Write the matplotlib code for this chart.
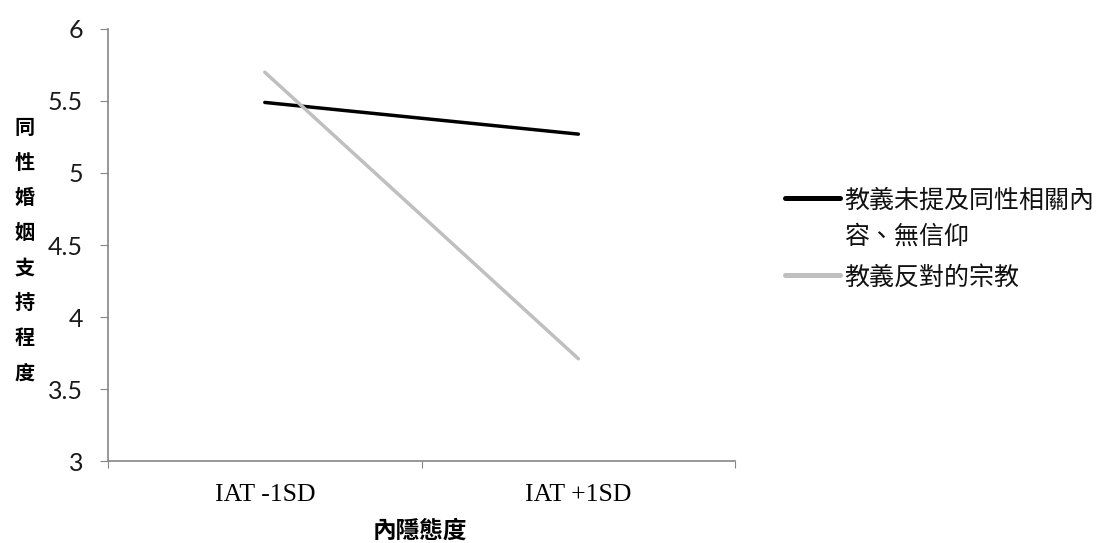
import matplotlib
matplotlib.use("Agg")
import matplotlib.pyplot as plt
from matplotlib.lines import Line2D
from matplotlib.ticker import FixedLocator

categories = ["IAT -1SD", "IAT +1SD"]
series_names = ["教義未提及同性相關內\n容、無信仰", "教義反對的宗教"]
series_a = [5.49, 5.27]
series_b = [5.70, 3.71]
series_colors = ["black", "#BFBFBF"]
y_ticks = [3, 3.5, 4, 4.5, 5, 5.5, 6]
y_tick_labels = ["3", "3.5", "4", "4.5", "5", "5.5", "6"]
x_title = "內隱態度"
y_title = "同性婚姻支持程度"

cjk = ["Noto Sans CJK TC", "DejaVu Sans"]
W, H = 1108, 543

fig = plt.figure(figsize=(W / 100, H / 100), dpi=100)
ax = fig.add_axes([0.0975, 0.151, 0.566, 0.7956])

xpos = [i + 0.5 for i in range(len(categories))]
lines = []
for vals, col in zip([series_a, series_b], series_colors):
    ln, = ax.plot(xpos, vals, color=col, lw=2.5, solid_capstyle="round")
    lines.append(ln)

ax.set_xlim(0, len(categories))
ax.set_ylim(3, 6)
ax.set_yticks(y_ticks)
ax.set_yticklabels(y_tick_labels, fontfamily="Lato", fontsize=18, color="#1a1a1a")
ax.xaxis.set_major_locator(FixedLocator(list(range(len(categories) + 1))))
ax.set_xticklabels([])
ax.set_xticks(xpos, minor=True)
ax.set_xticklabels(categories, minor=True, fontfamily="Liberation Serif", fontsize=18.5)
ax.tick_params(axis="x", which="minor", length=0, pad=16.5)
ax.tick_params(axis="x", which="major", length=5, color="#868686", direction="out")
ax.tick_params(axis="y", length=6, color="#868686", direction="out", pad=12)

for s in ["top", "right"]:
    ax.spines[s].set_visible(False)
for s in ["left", "bottom"]:
    ax.spines[s].set_color("#868686")
    ax.spines[s].set_linewidth(1.2)

fig.text(420 / W, 1 - 531 / H, x_title, ha="center", va="center", family=cjk,
         fontsize=17, fontweight="bold")
fig.text(25 / W, 1 - 250 / H, "\n".join(y_title), ha="center", va="center", family=cjk,
         fontsize=14.5, fontweight="bold", linespacing=1.83)

# legend (handle aligned with the first text line, like the original)
leg_y = [198, 275]
for ln, name, yy in zip(lines, series_names, leg_y):
    yf = 1 - yy / H
    fig.add_artist(Line2D([785 / W, 840 / W], [yf, yf], transform=fig.transFigure,
                          color=ln.get_color(), lw=3.6, solid_capstyle="round"))
    fig.text(844 / W, 1 - (yy - 10) / H, name, ha="left", va="top", family=cjk,
             fontsize=18, linespacing=1.5, color="#111111")

fig.savefig("out.png", dpi=100)
